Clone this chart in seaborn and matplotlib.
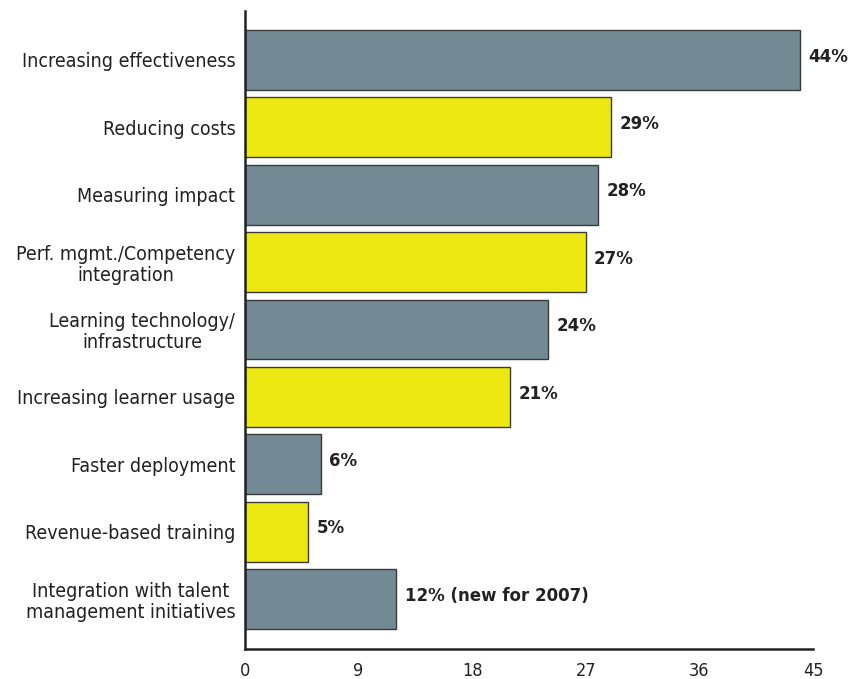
import matplotlib
matplotlib.use("Agg")
import matplotlib.pyplot as plt
import seaborn as sns
import pandas as pd

categories = [
    "Increasing effectiveness",
    "Reducing costs",
    "Measuring impact",
    "Perf. mgmt./Competency\nintegration",
    "Learning technology/\ninfrastructure",
    "Increasing learner usage",
    "Faster deployment",
    "Revenue-based training",
    "Integration with talent\nmanagement initiatives",
]
values = [44, 29, 28, 27, 24, 21, 6, 5, 12]
value_labels = ["44%", "29%", "28%", "27%", "24%", "21%", "6%", "5%", "12% (new for 2007)"]
groups = ["a", "b", "a", "b", "a", "b", "a", "b", "a"]
x_ticks = [0, 9, 18, 27, 36, 45]

palette = {"a": "#738a94", "b": "#ede812"}

sns.set_style("white")
plt.rcParams["font.family"] = ["DejaVu Sans"]
plt.rcParams["font.stretch"] = "condensed"

df = pd.DataFrame({"category": categories, "value": values, "group": groups})

fig = plt.figure(figsize=(8.53, 6.79), dpi=100)
ax = fig.add_axes([245 / 853, 1 - 649 / 679, (813 - 245) / 853, (649 - 11) / 679])

sns.barplot(data=df, x="value", y="category", hue="group", palette=palette,
            orient="h", dodge=False, legend=False, width=0.89, saturation=1,
            edgecolor="#3a3a3a", linewidth=1.0, ax=ax)

ax.set_xlim(0, 45)
ax.set_ylim(8.742, -0.727)
ax.set_xlabel("")
ax.set_ylabel("")

for i, (v, lab) in enumerate(zip(values, value_labels)):
    ax.text(v + 0.65, i - 0.05, lab, va="center", ha="left", fontsize=12,
            fontweight="bold", fontstretch="normal", color="#222222")

ax.set_xticks(x_ticks)
ax.set_xticklabels([str(t) for t in x_ticks], fontsize=13, color="#222222")
ax.tick_params(axis="x", direction="in", length=11, width=1.6, color="#222222", pad=9)
ax.tick_params(axis="y", length=0, pad=7, labelsize=14, labelcolor="#222222")
for t in ax.get_yticklabels():
    t.set_multialignment("center")
    t.set_linespacing(1.1)

for side in ["top", "right"]:
    ax.spines[side].set_visible(False)
for side in ["left", "bottom"]:
    ax.spines[side].set_linewidth(1.8)
    ax.spines[side].set_color("#222222")

fig.savefig("out.png", dpi=100)
